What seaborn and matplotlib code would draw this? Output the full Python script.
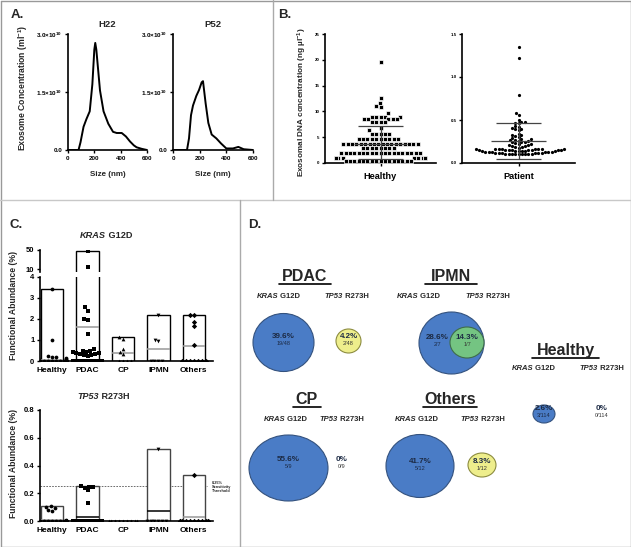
import numpy as np
import matplotlib
matplotlib.use("Agg")
import matplotlib.pyplot as plt
import seaborn as sns
from matplotlib.lines import Line2D
from matplotlib.patches import Ellipse

# ---------------- data ----------------
# A: NTA size distributions (x1e10 per ml)
h22_size = [0, 80, 95, 118, 140, 165, 185, 200, 207, 215, 243, 270, 306, 342, 370, 408, 440, 471, 500, 521, 560, 600]
h22_conc = [0, 0, 0.2, 0.6, 0.8, 1.0, 1.7, 2.6, 2.77, 2.6, 1.54, 1.0, 0.68, 0.47, 0.44, 0.44, 0.35, 0.22, 0.12, 0.07, 0.03, 0]
p52_size = [0, 105, 120, 135, 150, 175, 195, 215, 225, 245, 265, 290, 325, 360, 400, 450, 490, 530, 600]
p52_conc = [0, 0, 0.3, 0.9, 1.15, 1.4, 1.55, 1.75, 1.78, 1.2, 0.7, 0.4, 0.3, 0.17, 0.04, 0.04, 0.08, 0.02, 0]

# B: exosomal DNA concentration (ng/ul)
healthy_dna = ([19.6, 12.6, 11.6, 11.0, 10.8, 9.6]
               + [9.0] * 5 + [8.5] * 5 + [8.0] * 4 + [6.8, 6.3]
               + [5.7] * 5 + [4.7] * 10 + [3.6] * 18 + [2.9] * 8
               + [2.0] * 19 + [1.0] * 17 + [0.4] * 16)
patient_dna = [1.35, 1.22, 0.79, 0.58, 0.56, 0.50, 0.48, 0.48, 0.47, 0.46, 0.43, 0.42, 0.41, 0.40, 0.39, 0.38,
               0.34, 0.33, 0.32, 0.31, 0.30, 0.29, 0.28, 0.28, 0.27, 0.27, 0.26, 0.26, 0.25, 0.25,
               0.24, 0.23, 0.22, 0.22, 0.21, 0.21, 0.20, 0.20, 0.19, 0.19, 0.18,
               0.16, 0.16, 0.16, 0.16, 0.16, 0.16, 0.16, 0.16, 0.15, 0.15, 0.15, 0.15, 0.15, 0.15, 0.15, 0.15,
               0.14, 0.14, 0.14, 0.14, 0.14, 0.14, 0.13, 0.13, 0.13, 0.13, 0.13, 0.13,
               0.12, 0.12, 0.12, 0.12, 0.12, 0.12, 0.11, 0.11, 0.11, 0.11, 0.11, 0.10, 0.10, 0.10, 0.10]

# C: functional abundance (%), non-zero values; rest of each cohort is 0
cats = ['Healthy', 'PDAC', 'CP', 'IPMN', 'Others']
n_samples = [114, 48, 9, 7, 12]
kras_vals = [[3.45, 1.0, 0.25, 0.2, 0.18, 0.15, 0.12, 0.1, 0.08, 0.05],
             [48.5, 14.0, 2.55, 2.4, 2.0, 1.95, 1.3, 0.55, 0.5, 0.48, 0.45, 0.42, 0.4, 0.38, 0.35, 0.33, 0.3, 0.28, 0.25],
             [1.12, 1.05, 0.55, 0.45, 0.35],
             [2.18, 1.02, 0.95],
             [2.2, 2.18, 1.88, 1.65, 0.75]]
tp53_vals = [[0.105, 0.1, 0.095, 0.08, 0.075, 0.01],
             [0.25, 0.248, 0.245, 0.24, 0.22, 0.13],
             [],
             [0.52],
             [0.33]]

# D: detection rates
d_groups = ['PDAC', 'IPMN', 'Healthy', 'CP', 'Others']
d_total = [48, 7, 114, 9, 12]
d_kras_pos = [19, 2, 3, 5, 5]
d_tp53_pos = [2, 1, 0, 0, 1]

# ---------------- figure ----------------
W, H = 631, 547
sns.set_style("ticks")
plt.rcParams['font.family'] = ['Liberation Sans', 'DejaVu Sans']
plt.rcParams['mathtext.default'] = 'regular'

fig = plt.figure(figsize=(W / 100, H / 100), dpi=100)


def px_axes(x0, y0, x1, y1):
    return fig.add_axes([x0 / W, 1 - y1 / H, (x1 - x0) / W, (y1 - y0) / H])


def style(ax, fs):
    sns.despine(ax=ax)
    for s in ['left', 'bottom']:
        ax.spines[s].set_linewidth(1.2)
        ax.spines[s].set_color('k')
    ax.tick_params(labelsize=fs, width=1, length=2.5, pad=1.5, colors='k')
    for lab in ax.get_xticklabels() + ax.get_yticklabels():
        lab.set_fontweight('bold')
    ax.set_xlabel('')
    ax.set_ylabel('')


# overlay in pixel coordinates for text, frames and panel D
ov = fig.add_axes([0, 0, 1, 1], zorder=10)
ov.set_xlim(0, W)
ov.set_ylim(H, 0)
ov.axis('off')
ov.patch.set_alpha(0)

# frames
for (x0, y0, x1, y1, c) in [(0.5, 0.5, 630.5, 0.5, '#999999'), (0.5, 546.5, 630.5, 546.5, '#999999'),
                             (0.5, 0.5, 0.5, 546.5, '#999999'), (630.5, 0.5, 630.5, 546.5, '#999999'),
                             (0, 200, 631, 200, '#c8c8c8'), (273, 0, 273, 200, '#aaaaaa'),
                             (240, 200, 240, 547, '#aaaaaa')]:
    ov.add_line(Line2D([x0, x1], [y0, y1], color=c, lw=1))

for lab, x, y in [('A.', 11, 18), ('B.', 278, 18), ('C.', 10, 228), ('D.', 248, 228)]:
    ov.text(x, y, lab, fontsize=9.5, fontweight='bold', va='baseline')

# ---------------- A ----------------
for x0, x1, name, xs, ys in [(68, 147, 'H22', h22_size, h22_conc), (173, 253, 'P52', p52_size, p52_conc)]:
    ax = px_axes(x0, 34, x1, 150)
    sns.lineplot(x=xs, y=np.array(ys) * 1e10, color='k', lw=1.4, ax=ax)
    ax.set_xlim(0, 600)
    ax.set_ylim(0, 3e10)
    ax.set_xticks([0, 200, 400, 600])
    ax.set_yticks([0, 1.5e10, 3e10])
    ax.set_yticklabels(['0.0', r'1.5×10$^{10}$', r'3.0×10$^{10}$'])
    style(ax, 4.5)
    ov.text((x0 + x1) / 2, 27, name, fontsize=6.8, fontweight='bold', ha='center', va='baseline')
    ov.text((x0 + x1) / 2, 176, 'Size (nm)', fontsize=5.8, fontweight='bold', ha='center', va='baseline')
ov.text(23, 88, 'Exosome Concentration (ml$^{-1}$)', fontsize=6.2, fontweight='bold',
        rotation=90, ha='center', va='center')

# ---------------- B ----------------
for x0, x1, vals, mk, msize, mlw, lim, ticks, tlabels, name in [
        (325, 436, healthy_dna, 's', 2.5, 0.5, 25, [0, 5, 10, 15, 20, 25],
         ['0', '5', '10', '15', '20', '25'], 'Healthy'),
        (462, 575, patient_dna, 'o', 2.3, 0, 1.5, [0.0, 0.5, 1.0, 1.5],
         ['0.0', '0.5', '1.0', '1.5'], 'Patient')]:
    ax = px_axes(x0, 34, x1, 163)
    # white edges leave small gaps between neighbouring square markers
    sns.swarmplot(y=vals, marker=mk, color='k', size=msize, linewidth=mlw, edgecolor='white',
                  ax=ax, warn_thresh=1)
    m, sd = np.mean(vals), np.std(vals, ddof=1)
    low = max(m - sd, 0.03 * lim)
    ax.hlines(m, -0.24, 0.24, color='#444444', lw=0.9, zorder=5)
    ax.hlines([m + sd, low], -0.2, 0.2, color='#444444', lw=0.9, zorder=5)
    ax.vlines(0, low, m + sd, color='#444444', lw=0.9, zorder=5)
    ax.set_xlim(-0.5, 0.5)
    ax.set_ylim(0, lim)
    ax.set_yticks(ticks)
    ax.set_yticklabels(tlabels)
    ax.set_xticks([0])
    ax.set_xticklabels([name])
    style(ax, 3.2)
    ax.tick_params(axis='x', labelsize=6.6, pad=4)
    for lab in ax.get_xticklabels() + ax.get_yticklabels():
        lab.set_fontweight('bold')
ov.text(302, 102, 'Exosomal DNA concentration (ng µl$^{-1}$)', fontsize=5.9, fontweight='bold',
        rotation=90, ha='center', va='center')

# ---------------- C ----------------
markers = ['o', 's', '^', 'v', 'D']
xs = np.arange(len(cats))
kras = [np.array(v + [0.0] * (n - len(v))) for v, n in zip(kras_vals, n_samples)]
tp53 = [np.array(v + [0.0] * (n - len(v))) for v, n in zip(tp53_vals, n_samples)]


def draw_abundance(ax, data, lo, hi, edge, mean_cols, show_mean=True):
    tops = np.array([d.max() for d in data])
    bots = np.array([d.min() for d in data])
    keep = tops > lo
    ax.bar(xs[keep], (tops - bots)[keep], bottom=bots[keep], width=0.63, color='white',
           edgecolor=edge, lw=1, zorder=1)
    if show_mean:
        for x, d, c in zip(xs, data, mean_cols):
            ax.hlines(d.mean(), x - 0.315, x + 0.315, color=c, lw=1.1, zorder=2)
    for c, mk, d in zip(cats, markers, data):
        sel = d[(d >= lo) & (d <= hi)]
        if len(sel):
            sns.swarmplot(x=[c] * len(sel), y=sel, order=cats, marker=mk, color='k', size=2.7,
                          linewidth=0, ax=ax, warn_thresh=1, zorder=3)
    ax.set_xlim(-0.34, 4.54)


axu = px_axes(40, 250, 213, 272)
draw_abundance(axu, kras, 4.0001, 100, 'k', ['#999999'] * 5, show_mean=False)
axu.set_ylim(4, 50)
axu.set_yticks([10, 50])
style(axu, 5.5)
axu.spines['bottom'].set_visible(False)
axu.xaxis.set_visible(False)

axl = px_axes(40, 277, 213, 361)
draw_abundance(axl, kras, 0, 4, 'k', ['#999999'] * 5)
axl.set_ylim(0, 4)
axl.set_yticks([0, 1, 2, 3, 4])
axl.set_xticks(xs)
axl.set_xticklabels(cats)
style(axl, 5.5)
axl.tick_params(axis='x', length=0, pad=4, labelsize=6)
for lab in axl.get_xticklabels():
    lab.set_fontweight('bold')

axb = px_axes(40, 410, 213, 521)
draw_abundance(axb, tp53, 0, 1, '#444444', ['#999999', 'k', '#999999', 'k', '#999999'])
axb.set_ylim(0, 0.8)
axb.set_yticks([0.0, 0.2, 0.4, 0.6, 0.8])
axb.set_xticks(xs)
axb.set_xticklabels(cats)
axb.hlines(0.25, -0.34, 4.37, color='#555555', lw=0.6, ls=(0, (2, 1.5)), zorder=0)
style(axb, 5.5)
axb.set_yticklabels(['0.0', '0.2', '0.4', '0.6', '0.8'])
axb.tick_params(axis='x', length=0, pad=4, labelsize=6)
for lab in axb.get_xticklabels() + axb.get_yticklabels():
    lab.set_fontweight('bold')
ov.text(212, 487, '0.25%\nSensitivity\nThreshold', fontsize=2.8, fontweight='bold',
        ha='left', va='center', linespacing=1.1)

for yc in (305, 463):
    ov.text(14, yc, 'Functional Abundance (%)', fontsize=6.2, fontweight='bold',
            rotation=90, ha='center', va='center')


def text_w(s, size):
    em = size * 100 / 72
    return sum(0.556 if ch.isdigit() else (0.28 if ch == ' ' else 0.7) for ch in s) * em


def gene_text(x, y, gene, mut, size):
    total = text_w(gene + ' ' + mut, size)
    xr = x - total / 2 + text_w(gene, size)
    t = ov.text(xr, y, gene, fontsize=size, fontweight='bold', fontstyle='italic', ha='right', va='baseline')
    ov.annotate(' ' + mut, xy=(1, 0), xycoords=t, fontsize=size, fontweight='bold', ha='left', va='bottom')


gene_text(106, 238, 'KRAS', 'G12D', 6.6)
gene_text(103, 399, 'TP53', 'R273H', 6.5)

# ---------------- D ----------------
blue, blue_e = '#4a7cc6', '#34527e'
yellow, yellow_e = '#eeee8c', '#8c8c40'
green, green_e = '#74c482', '#3f6d4a'
pct_col = '#1c2a44'

# layout per group: title (x, baseline), underline x-span, subtitle baseline, kras/tp53 subtitle x,
# kras ellipse (x, y, w, h), tp53 ellipse (x, y, w, h) or None, text positions
layout = {
    'PDAC': dict(title=(305, 281), ul=(279, 331), sub_y=298, sub_x=(278, 346),
                 k=(283.5, 342.5, 61, 58), k_txt=(283.5, 338), t=(348.5, 341, 25, 24), t_txt=(348.5, 338)),
    'IPMN': dict(title=(451, 281), ul=(425, 477), sub_y=298, sub_x=(418, 487),
                 k=(451.5, 343, 65, 62), k_txt=(437, 339), t=(467, 342.5, 34, 31), t_txt=(467, 339)),
    'Healthy': dict(title=(566, 355), ul=(532, 599), sub_y=370, sub_x=(533, 601),
                    k=(544, 414, 22, 18), k_txt=(544, 410), t=None, t_txt=(602, 410)),
    'CP': dict(title=(307, 404), ul=(293, 321), sub_y=421, sub_x=(285, 341),
               k=(288.5, 468, 79, 66), k_txt=(288.5, 461), t=None, t_txt=(342, 461)),
    'Others': dict(title=(450, 404), ul=(423, 477), sub_y=421, sub_x=(416, 482),
                   k=(420, 466, 68, 63), k_txt=(420, 463), t=(482, 465, 28, 24), t_txt=(482, 463)),
}


def pct_label(pos, tot):
    p = 100 * pos / tot
    return f'{p:.1f}%' if pos else '0%'


for g, tot, kp, tp in zip(d_groups, d_total, d_kras_pos, d_tp53_pos):
    L = layout[g]
    tx, ty = L['title']
    ov.text(tx, ty, g, fontsize=11.5, fontweight='bold', ha='center', va='baseline')
    ov.add_line(Line2D(L['ul'], [ty + 2.5, ty + 2.5], color='k', lw=1.2))
    gene_text(L['sub_x'][0], L['sub_y'], 'KRAS', 'G12D', 5.5)
    gene_text(L['sub_x'][1], L['sub_y'], 'TP53', 'R273H', 5.5)

    ex, ey, ew, eh = L['k']
    ov.add_patch(Ellipse((ex, ey), ew, eh, facecolor=blue, edgecolor=blue_e, lw=0.8, zorder=1))
    kx, ky = L['k_txt']
    ov.text(kx, ky, pct_label(kp, tot), fontsize=5.8, fontweight='bold', color=pct_col,
            ha='center', va='baseline', zorder=5)
    ov.text(kx, ky + 7, f'{kp}/{tot}', fontsize=4, color=pct_col, ha='center', va='baseline', zorder=5)

    if L['t'] is not None:
        ex, ey, ew, eh = L['t']
        fc, ec = (green, green_e) if g == 'IPMN' else (yellow, yellow_e)
        ov.add_patch(Ellipse((ex, ey), ew, eh, facecolor=fc, edgecolor=ec, lw=0.8, zorder=2))
    t_x, t_y = L['t_txt']
    ov.text(t_x, t_y, pct_label(tp, tot), fontsize=5.8, fontweight='bold', color=pct_col,
            ha='center', va='baseline', zorder=5)
    ov.text(t_x, t_y + 7, f'{tp}/{tot}', fontsize=4, color='#333333', ha='center', va='baseline', zorder=5)

fig.savefig('out.png', dpi=100)
